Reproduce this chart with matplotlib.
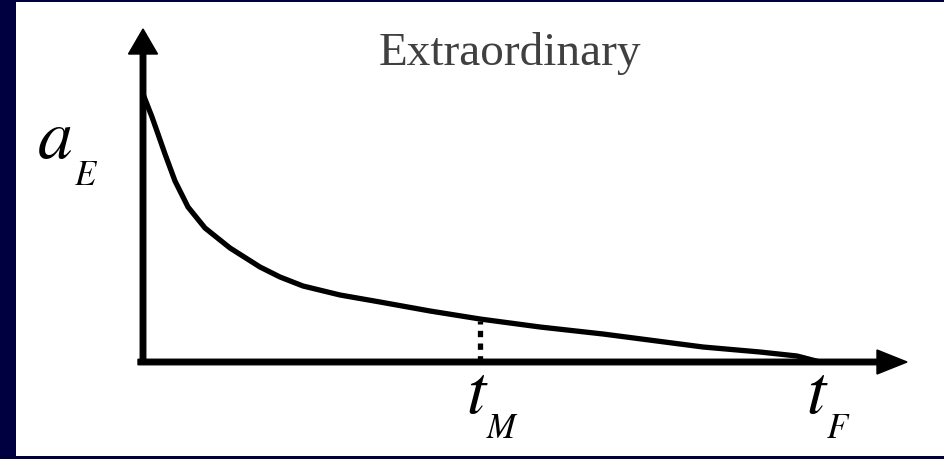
import matplotlib.pyplot as plt

plt.rcParams["mathtext.fontset"] = "stix"

# extraordinary-wave curve a_E(t), axis origin at (0, 0)
t_vals = [0, 9, 15, 22, 32, 45, 62, 87, 117, 137, 160, 197, 237, 287,
          337, 397, 460, 560, 617, 654, 677]
a_vals = [268, 245, 228, 208, 181, 155, 134, 114, 95, 85, 76, 67, 60, 51,
          43, 35, 28, 15, 10, 6, 0]

t_M = 337
a_at_tM = 41
t_F = 677

title = "Extraordinary"
y_label = ("a", "E")
tick_labels = [("t", "M", t_M), ("t", "F", t_F)]

navy = "#000040"
serif = ["Liberation Serif", "DejaVu Serif"]


def main():
    fig = plt.figure(figsize=(9.45, 4.6), dpi=100, facecolor=navy)
    ax = fig.add_axes([16 / 945, 3 / 460, 928 / 945, 454 / 460])
    ax.set_facecolor("white")
    ax.set_xlim(-127, 801)
    ax.set_ylim(-94, 360)
    for s in ax.spines.values():
        s.set_visible(False)
    ax.set_xticks([])
    ax.set_yticks([])

    # axes with arrowheads
    ax.arrow(0, 0, 0, 333, width=5.5, head_width=29, head_length=25,
             length_includes_head=True, color="black", zorder=3)
    ax.arrow(-5, 0, 769, 0, width=5.5, head_width=24, head_length=30,
             length_includes_head=True, color="black", zorder=3)

    ax.plot(t_vals, a_vals, color="black", lw=3.8, solid_capstyle="butt",
            solid_joinstyle="round", zorder=2)
    ax.plot([t_M, t_M], [0, a_at_tM], color="black", lw=3.8,
            linestyle=(0, (1.2, 1.2)), zorder=2)

    ax.text(367, 298, title, ha="center", va="baseline", fontsize=34,
            color="#404040", family=serif)

    ax.text(-106, 205, f"${y_label[0]}$", ha="left", va="baseline",
            fontsize=50)
    ax.text(-69, 178, f"${y_label[1]}$", ha="left", va="baseline",
            fontsize=25)

    for main_txt, sub_txt, pos in tick_labels:
        ax.text(pos - 14, -50, f"${main_txt}$", ha="left", va="baseline",
                fontsize=50)
        ax.text(pos + 6, -75, f"${sub_txt}$", ha="left", va="baseline",
                fontsize=25)

    fig.savefig("out.png", dpi=100, facecolor=navy)


if __name__ == "__main__":
    main()
